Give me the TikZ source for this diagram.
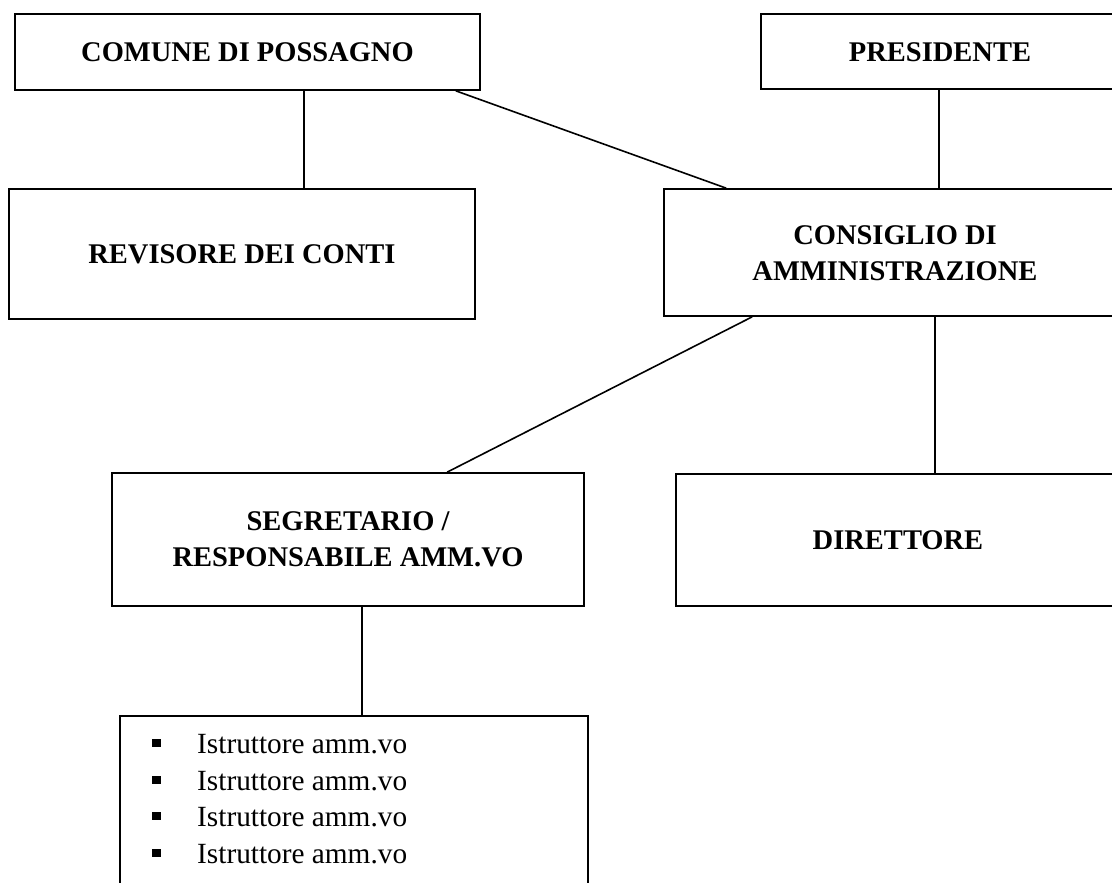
\documentclass[tikz,border=0pt]{standalone}
\usepackage{fontspec}
\setmainfont{Liberation Serif}
\begin{document}
\begin{tikzpicture}[x=1pt,y=-1pt,
  box/.style={draw=black,line width=1.7pt,fill=none,inner sep=0pt,align=center,
    font=\fontsize{28.5}{35.5}\selectfont\bfseries},
  conn/.style={line width=1.6pt},
  itemtext/.style={anchor=base west,inner sep=0pt,font=\fontsize{29.3}{34}\selectfont},
  bul/.style={fill=black,inner sep=0pt,minimum width=8.5pt,minimum height=8pt}]
\useasboundingbox (0,0) rectangle (1112,883);
\clip (0,0) rectangle (1112,883);
\node[box,minimum width=465pt,minimum height=76pt] (comune) at (247.5,52) {COMUNE DI POSSAGNO};
\node[box,minimum width=360pt,minimum height=75pt] (pres) at (941,51.5) {};
\node[font=\fontsize{28.5}{35.5}\selectfont\bfseries] (prestxt) at (940,52) {PRESIDENTE};
\node[box,minimum width=466pt,minimum height=130pt] (revisore) at (242,254) {REVISORE DEI CONTI};
\node[box,minimum width=456pt,minimum height=127pt] (consiglio) at (892,252.5) {};
\node[align=center,font=\fontsize{28.5}{35.5}\selectfont\bfseries] (constxt) at (895,253) {CONSIGLIO DI\\AMMINISTRAZIONE};
\node[box,minimum width=472pt,minimum height=133pt] (segr) at (348,539.5) {SEGRETARIO /\\RESPONSABILE AMM.VO};
\node[box,minimum width=444pt,minimum height=132pt] (dir) at (898,540) {};
\node[font=\fontsize{28.5}{35.5}\selectfont\bfseries] (dirtxt) at (898,540) {DIRETTORE};
\node[box,minimum width=468pt,minimum height=190pt] (lista) at (354,811) {};
\node[bul] (b1) at (156.5,743) {};
\node[bul] (b2) at (156.5,780) {};
\node[bul] (b3) at (156.5,816) {};
\node[bul] (b4) at (156.5,853) {};
\node[itemtext] (i1) at (197,753) {Istruttore amm.vo};
\node[itemtext] (i2) at (197,790) {Istruttore amm.vo};
\node[itemtext] (i3) at (197,826) {Istruttore amm.vo};
\node[itemtext] (i4) at (197,863) {Istruttore amm.vo};
% connectors
\draw[conn] ([xshift=56.5pt]comune.south) -- ([xshift=56.5pt]comune.south |- revisore.north);
\draw[conn] ([xshift=-25pt]comune.south east) -- ([xshift=63pt]consiglio.north west);
\draw[conn] ([xshift=-2pt]pres.south) -- ([xshift=-2pt]pres.south |- consiglio.north);
\draw[conn] ([xshift=89pt]consiglio.south west) -- ([xshift=336pt]segr.north west);
\draw[conn] ([xshift=272pt]consiglio.south west) -- ([xshift=272pt]consiglio.south west |- dir.north);
\draw[conn] ([xshift=14pt]segr.south) -- ([xshift=14pt]segr.south |- lista.north);
\end{tikzpicture}
\end{document}
